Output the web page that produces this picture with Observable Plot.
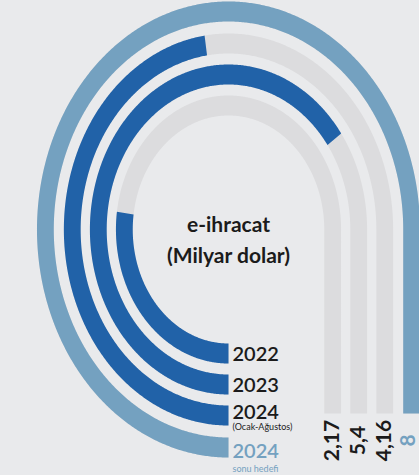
<!DOCTYPE html>
<html>
<head>
<meta charset="utf-8">
<script src="https://cdn.jsdelivr.net/npm/d3@7"></script>
<script src="https://cdn.jsdelivr.net/npm/@observablehq/plot@0.6"></script>
<style>
  html, body { margin: 0; padding: 0; background: #e9eaec; overflow: hidden; }
  #chart svg { display: block; }
</style>
</head>
<body>
<div id="chart"></div>
<script>
// ---- data ----
const years = ["2022", "2023", "2024", "2024"];
const subLabels = ["", "", "(Ocak-Ağustos)", "sonu hedefi"];
const values = [2.17, 5.4, 4.16, 8];
const valueLabels = ["2,17", "5,4", "4,16", "8"];
const maxValue = 8;
const titleLines = ["e-ihracat", "(Milyar dolar)"];

// ---- colours ----
const blue = "#2162a8", light = "#74a1c0", track = "#dcdcde", ink = "#1b1b1b";

// ---- track geometry (lane i: 3/4 ellipse from bottom, clockwise, then straight down on the right) ----
const W = 419, H = 475;
const cx = 228, cy = 229, k = 0.84, R0 = 124, gap = 31, halfW = 10, yEnd = 413;
const laneR = i => R0 + i * gap + (i === 3 ? 1 : 0);

function laneSamples(i) {
  const R = laneR(i), N = 600, pts = [];
  let len = 0, px = null, py = null;
  for (let j = 0; j <= N; j++) {
    const t = 1.5 * Math.PI * j / N;
    const x = cx - k * R * Math.sin(t), y = cy + R * Math.cos(t);
    if (px !== null) len += Math.hypot(x - px, y - py);
    pts.push({t, s: len});
    px = x; py = y;
  }
  return {R, pts, arcLen: len, total: len + (yEnd - cy)};
}

function band(i, value) {
  const L = laneSamples(i);
  const sEnd = value / maxValue * L.total;
  const ts = [];
  for (let j = 0; j < L.pts.length; j++) {
    const p = L.pts[j];
    if (p.s <= sEnd) ts.push(p.t);
    else {
      const q = L.pts[j - 1];
      ts.push(q.t + (p.t - q.t) * (sEnd - q.s) / (p.s - q.s));
      break;
    }
  }
  const pos = (t, r) => ({x: cx - k * r * Math.sin(t), y: cy + r * Math.cos(t)});
  const outer = ts.map(t => pos(t, L.R + halfW));
  const inner = ts.map(t => pos(t, L.R - halfW));
  if (sEnd > L.arcLen) {
    const yy = cy + (sEnd - L.arcLen);
    outer.push({x: cx + k * (L.R + halfW), y: yy});
    inner.push({x: cx + k * (L.R - halfW), y: yy});
  }
  return outer.concat(inner.reverse()).map(d => ({...d, lane: i}));
}

const lanes = years.map((y, i) => i);
const marks = [];
// grey tracks
lanes.forEach(i => marks.push(Plot.line(band(i, maxValue), {x: "x", y: "y", fill: track, stroke: "none", curve: "linear-closed"})));
// value fills
lanes.forEach(i => marks.push(Plot.line(band(i, values[i]), {x: "x", y: "y", fill: i === 3 ? light : blue, stroke: "none", curve: "linear-closed"})));

// year labels at the start of each lane
const yearData = lanes.map(i => ({
  text: years[i], sub: subLabels[i], i,
  x: cx + 4,
  y: cy + laneR(i) + (i === 3 ? 4 : i === 2 ? -3 : 1)
}));
marks.push(Plot.text(yearData, {x: "x", y: "y", text: "text", textAnchor: "start", fontSize: 20, fontWeight: 600,
  fill: d => d.i === 3 ? light : ink}));
marks.push(Plot.text(yearData.filter(d => d.sub), {x: "x", y: d => d.y + (d.i === 3 ? 18 : 15), text: "sub", textAnchor: "start",
  fontSize: 9, fill: d => d.i === 3 ? light : ink}));

// value labels below the end of each lane
const valData = lanes.map(i => ({text: valueLabels[i], i, x: Math.min(cx + k * laneR(i), W - 11), y: yEnd + 27}));
marks.push(Plot.text(valData, {x: "x", y: "y", text: "text", rotate: -90, textAnchor: "middle", fontSize: 21, fontWeight: 700,
  fill: d => d.i === 3 ? light : ink}));

// centre title
marks.push(Plot.text(titleLines, {x: () => cx, y: (d, j) => cy - 4 + j * 31, text: d => d, fontSize: 21, fontWeight: 700, fill: ink}));

const chart = Plot.plot({
  width: W, height: H, margin: 0,
  x: {domain: [0, W], range: [0, W], axis: null},
  y: {domain: [0, H], range: [0, H], axis: null},
  style: {background: "#e9eaec", fontFamily: "Lato, 'Open Sans', sans-serif", overflow: "hidden"},
  marks
});
document.getElementById("chart").appendChild(chart);
</script>
</body>
</html>
